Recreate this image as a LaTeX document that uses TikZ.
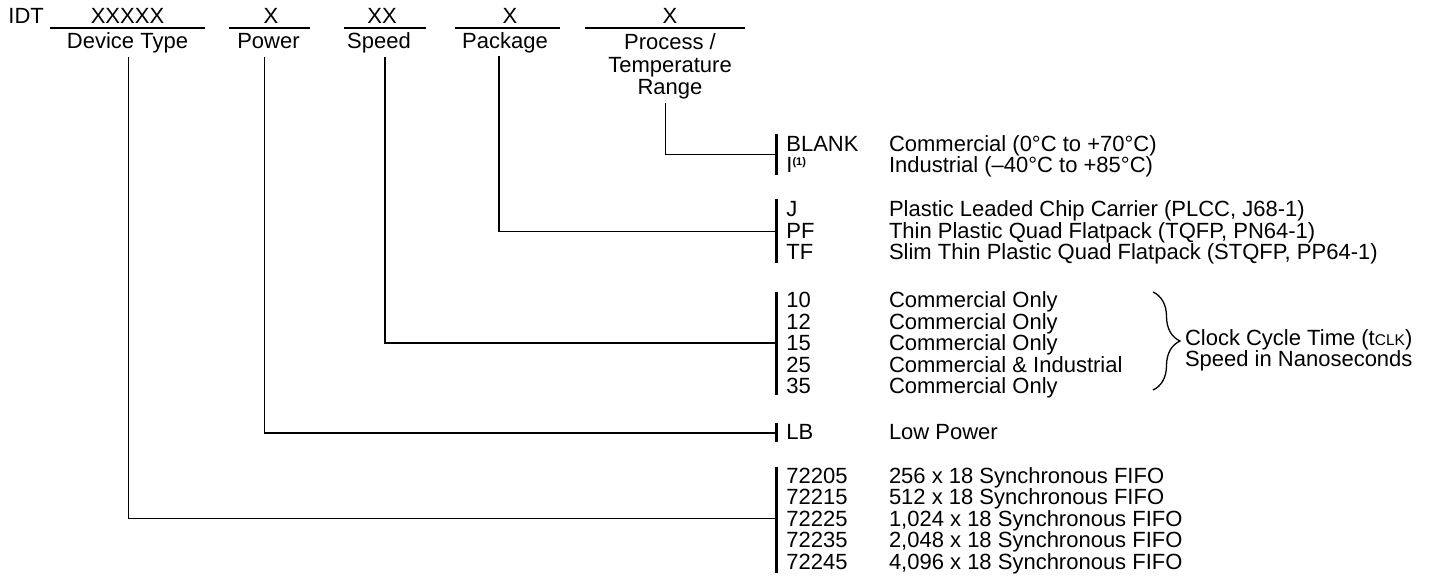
\documentclass[tikz,border=0pt]{standalone}
\usepackage{fontspec}
\setmainfont{Liberation Sans}
\usetikzlibrary{decorations.pathreplacing}
\tikzset{
  txt/.style={inner sep=0pt, outer sep=0pt, font=\fontsize{22}{21.6}\selectfont},
  code/.style={txt, anchor=base west},
  desc/.style={txt, anchor=base west},
  toplbl/.style={txt, anchor=base, align=center},
  conn/.style={line width=1.3pt, black},
  bar/.style={line width=2.8pt, black},
  fieldline/.style={line width=2pt, black},
  bracestyle/.style={line width=1.3pt, decorate, decoration={brace, amplitude=27pt}},
}
\newcommand{\supone}{\textsuperscript{\fontsize{11}{11}\selectfont\bfseries (1)}}
\begin{document}
\begin{tikzpicture}[x=1pt,y=-1pt]
\useasboundingbox (0,0) rectangle (1439,579);

% ---------- top field labels ----------
\node[txt, anchor=base west] (idt) at (8.5,23) {IDT};

\coordinate (devL) at (50,28.3);  \coordinate (devR) at (205,28.3);
\coordinate (powL) at (229,28.3); \coordinate (powR) at (310,28.3);
\coordinate (spdL) at (344,28.3); \coordinate (spdR) at (426,28.3);
\coordinate (pkgL) at (455,28.3); \coordinate (pkgR) at (560,28.3);
\coordinate (prcL) at (585,28.3); \coordinate (prcR) at (745,28.3);
\draw[fieldline] (devL) -- (devR);
\draw[fieldline] (powL) -- (powR);
\draw[fieldline] (spdL) -- (spdR);
\draw[fieldline] (pkgL) -- (pkgR);
\draw[fieldline] (prcL) -- (prcR);

\node[toplbl] (devX) at (127.5,23) {XXXXX};
\node[toplbl] (devT) at (127.5,48.5) {Device Type};
\node[toplbl] (powX) at (271,23) {X};
\node[toplbl] (powT) at (268.5,48.5) {Power};
\node[toplbl] (spdX) at (382,23) {XX};
\node[toplbl] (spdT) at (379,48.5) {Speed};
\node[toplbl] (pkgX) at (510,23) {X};
\node[toplbl] (pkgT) at (505,48.5) {Package};
\node[toplbl] (prcX) at (670,23) {X};
\node[toplbl] (prcT1) at (670,49.5) {Process /};
\node[toplbl] (prcT2) at (670,72) {Temperature};
\node[toplbl] (prcT3) at (670,94.5) {Range};

% ---------- bars ----------
\coordinate (prcBt) at (776.7,134);   \coordinate (prcBb) at (776.7,175);
\coordinate (pkgBt) at (776.7,199);   \coordinate (pkgBb) at (776.7,263);
\coordinate (spdBt) at (776.7,292);   \coordinate (spdBb) at (776.7,395);
\coordinate (powBt) at (776.7,423);   \coordinate (powBb) at (776.7,442);
\coordinate (devBt) at (776.7,467);   \coordinate (devBb) at (776.7,573);
\draw[bar] (prcBt) -- (prcBb);
\draw[bar] (pkgBt) -- (pkgBb);
\draw[bar] (spdBt) -- (spdBb);
\draw[bar] (powBt) -- (powBb);
\draw[bar] (devBt) -- (devBb);

% ---------- connectors ----------
\coordinate (devV) at (128.3,57);  \coordinate (devH) at (776.7,518.5);
\coordinate (powV) at (264.3,57);  \coordinate (powH) at (776.7,433);
\coordinate (spdV) at (385,57);    \coordinate (spdH) at (776.7,343);
\coordinate (pkgV) at (499,56);    \coordinate (pkgH) at (776.7,231.7);
\coordinate (prcV) at (665.7,103); \coordinate (prcH) at (776.7,154.3);
\draw[conn] (devV) |- (devH);
\draw[conn] (powV) |- (powH);
\draw[conn] (spdV) |- (spdH);
\draw[conn] (pkgV) |- (pkgH);
\draw[conn] (prcV) |- (prcH);

% ---------- process / temperature ----------
\node[code] (cBlank) at (786.4,151) {BLANK};
\node[code] (cI)     at (786.4,172.6) {I\supone};
\node[desc] (dBlank) at (889,151) {Commercial (0°C to +70°C)};
\node[desc] (dI)     at (889,172.6) {Industrial (–40°C to +85°C)};

% ---------- package ----------
\node[code] (cJ)  at (786.4,216.7) {J};
\node[code] (cPF) at (786.4,238.3) {PF};
\node[code] (cTF) at (786.4,259.9) {TF};
\node[desc] (dJ)  at (889,216.7) {Plastic Leaded Chip Carrier (PLCC, J68-1)};
\node[desc] (dPF) at (889,238.3) {Thin Plastic Quad Flatpack (TQFP, PN64-1)};
\node[desc] (dTF) at (889,259.9) {Slim Thin Plastic Quad Flatpack (STQFP, PP64-1)};

% ---------- speed ----------
\node[code] (c10) at (786.4,307.5) {10};
\node[code] (c12) at (786.4,329.1) {12};
\node[code] (c15) at (786.4,350.7) {15};
\node[code] (c25) at (786.4,372.3) {25};
\node[code] (c35) at (786.4,393.9) {35};
\node[desc] (d10) at (889,307.5) {Commercial Only};
\node[desc] (d12) at (889,329.1) {Commercial Only};
\node[desc] (d15) at (889,350.7) {Commercial Only};
\node[desc] (d25) at (889,372.3) {Commercial \& Industrial};
\node[desc] (d35) at (889,393.9) {Commercial Only};
\coordinate (brT) at (1153,292);
\coordinate (brB) at (1153,390);
\draw[bracestyle] (brT) -- (brB);
\node[desc] (clk1) at (1185,345) {Clock Cycle Time (t{\fontsize{15.5}{15.5}\selectfont CLK})};
\node[desc] (clk2) at (1185,366.5) {Speed in Nanoseconds};

% ---------- power ----------
\node[code] (cLB) at (786.4,439) {LB};
\node[desc] (dLB) at (889,439) {Low Power};

% ---------- device type ----------
\node[code] (c05) at (786.4,483)   {72205};
\node[code] (c15d) at (786.4,504.6) {72215};
\node[code] (c25d) at (786.4,526.2) {72225};
\node[code] (c35d) at (786.4,547.8) {72235};
\node[code] (c45d) at (786.4,569.4) {72245};
\node[desc] (d05) at (889,483)   {256 x 18 Synchronous FIFO};
\node[desc] (d15d) at (889,504.6) {512 x 18 Synchronous FIFO};
\node[desc] (d25d) at (889,526.2) {1,024 x 18 Synchronous FIFO};
\node[desc] (d35d) at (889,547.8) {2,048 x 18 Synchronous FIFO};
\node[desc] (d45d) at (889,569.4) {4,096 x 18 Synchronous FIFO};
\end{tikzpicture}
\end{document}
